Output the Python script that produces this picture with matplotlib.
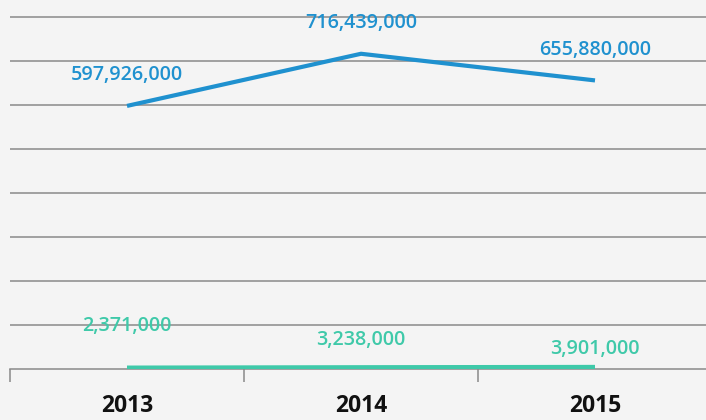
import matplotlib
matplotlib.use("Agg")
import matplotlib.pyplot as plt
from matplotlib.ticker import FixedLocator

years = ["2013", "2014", "2015"]
series_a = [597926000, 716439000, 655880000]
series_b = [2371000, 3238000, 3901000]
labels_a = ["597,926,000", "716,439,000", "655,880,000"]
labels_b = ["2,371,000", "3,238,000", "3,901,000"]

blue = "#1f91cf"
teal = "#3fc9a9"
bg = "#f4f4f4"
grid = "#8a8a8a"

fig = plt.figure(figsize=(7.06, 4.2), dpi=100, facecolor=bg)
ax = fig.add_axes([10/706, 51/420, 696/706, 369/420])
ax.set_facecolor(bg)

x = list(range(len(years)))
ax.plot(x, series_a, color=blue, lw=3, solid_capstyle="butt", zorder=3)
ax.plot(x, series_b, color=teal, lw=3.5, solid_capstyle="butt", zorder=3)

ax.set_xlim(-0.5, -0.5 + 696/234)
ax.set_ylim(0, 369/0.44 * 1e6)

ax.yaxis.set_major_locator(FixedLocator([i*1e8 for i in range(1, 9)]))
ax.grid(axis="y", color=grid, lw=1.1, zorder=1)
ax.tick_params(axis="y", left=False, labelleft=False)

for s in ["top", "right", "left"]:
    ax.spines[s].set_visible(False)
ax.spines["bottom"].set_color(grid)
ax.spines["bottom"].set_linewidth(1.1)

ax.set_xticks(x)
ax.set_xticklabels(years, fontfamily="Open Sans", fontweight="bold", fontsize=16.5, color="#111111")
ax.tick_params(axis="x", length=0, pad=18)
ax.xaxis.set_minor_locator(FixedLocator([-0.5, 0.5, 1.5]))
ax.tick_params(axis="x", which="minor", length=9, color=grid, width=1.1)

for xi, v, t in zip(x, series_a, labels_a):
    ax.annotate(t, (xi, v), xytext=(0, 22), textcoords="offset points", ha="center", va="center",
                color=blue, fontfamily="Open Sans", fontweight="semibold", fontsize=14.2, zorder=4)

offsets_b = [30, 19.5, 13.5]
for xi, v, t, o in zip(x, series_b, labels_b, offsets_b):
    ax.annotate(t, (xi, v), xytext=(0, o), textcoords="offset points", ha="center", va="center",
                color=teal, fontfamily="Open Sans", fontweight="semibold", fontsize=14.2, zorder=4)

fig.savefig("out.png", dpi=100, facecolor=bg)
